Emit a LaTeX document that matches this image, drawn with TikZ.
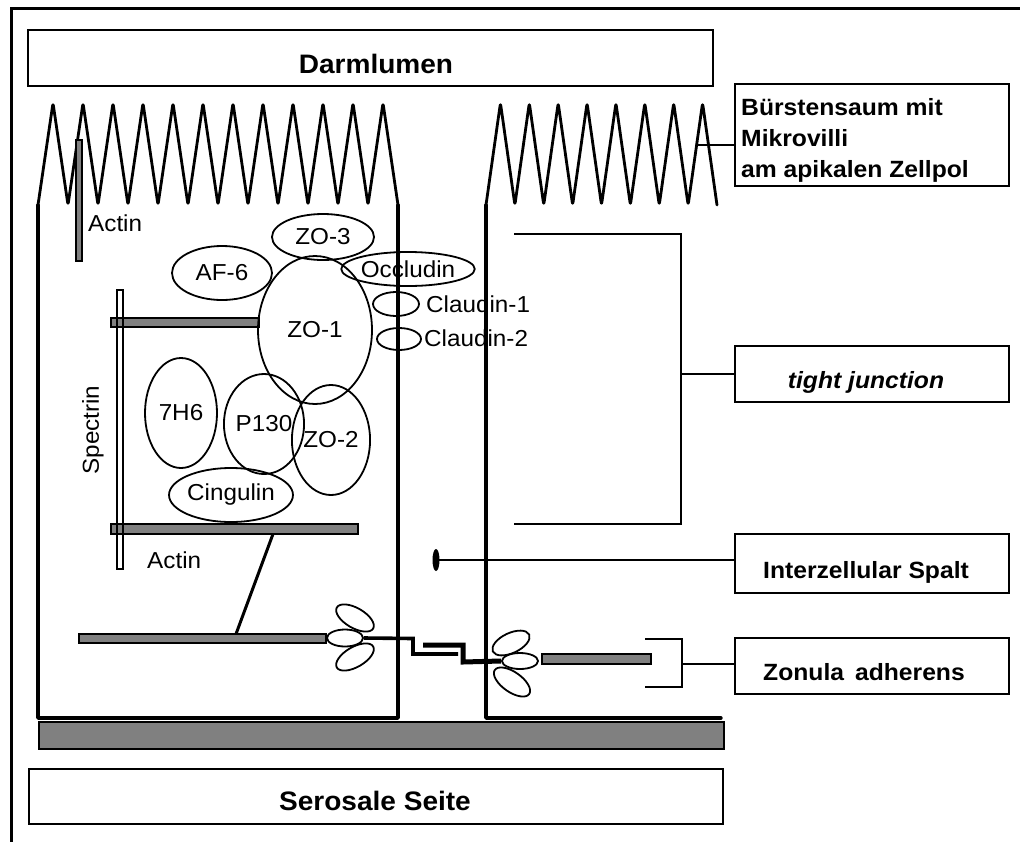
\documentclass[tikz,border=0pt]{standalone}
\usepackage{fontspec}
\setmainfont{Liberation Sans}
\usepackage{graphicx}
\usetikzlibrary{shapes.geometric}
\definecolor{barg}{HTML}{808080}
\newcommand{\stretchtxt}[1]{\scalebox{1.05}[1]{#1}}
\newcommand{\regf}{\fontsize{23.1}{27}\selectfont}
\newcommand{\boldf}{\fontsize{23.5}{28}\selectfont\bfseries}
\newcommand{\titlef}{\fontsize{26.7}{31}\selectfont\bfseries}
\tikzset{
  frameline/.style={line width=3.5pt, line join=miter},
  cellwall/.style={line width=3.4pt, line join=round, line cap=round},
  villi/.style={line width=2.8pt, line join=round, line cap=round, rounded corners=3pt},
  boxed/.style={draw, rectangle, line width=2pt, inner sep=0pt},
  prot/.style={draw, ellipse, line width=1.8pt, inner sep=0pt, font=\regf},
  blob/.style={draw, ellipse, line width=1.8pt, inner sep=0pt},
  barshape/.style={draw, rectangle, fill=barg, line width=1.4pt, inner sep=0pt},
  specbar/.style={draw, rectangle, line width=1.4pt, inner sep=0pt},
  lnk/.style={line width=2.2pt},
  lbl/.style={inner sep=0pt, font=\regf},
  blbl/.style={inner sep=0pt, font=\boldf},
}
\begin{document}
\begin{tikzpicture}[x=1pt,y=-1pt]
\useasboundingbox (0,0) rectangle (1020,841);
% outer frame
\draw[frameline] (11.7,845) -- (11.7,8.7) -- (1020,8.7);

% Darmlumen & Serosale boxes
\node[boxed, minimum width=685, minimum height=56] (lumen) at (370.5,58) {};
\node[inner sep=0pt, font=\titlef, anchor=base] (lumentxt) at (376,73) {\stretchtxt{Darmlumen}};
\node[boxed, minimum width=694, minimum height=55] (serosa) at (376,796.5) {};
\node[inner sep=0pt, font=\titlef, anchor=base] (serosatxt) at (375,810) {\stretchtxt{Serosale Seite}};

% basement membrane
\node[barshape, minimum width=685, minimum height=27] (basal) at (381.5,735.5) {};

% left cell
\draw[cellwall] (38,205) -- (38,718) -- (398,718) -- (398,205);
\draw[villi] (38,205) \foreach \i in {0,...,11}{ -- ({53+30*\i},103) -- ({68+30*\i},205) };
% right cell
\draw[cellwall] (486,205) -- (486,718) -- (721,718);
\draw[villi] (486,205) \foreach \i in {0,...,7}{ -- ({486+14.44+28.875*\i},103) -- ({486+28.875*(\i+1)},205) };

% cytoskeleton bars
\node[barshape, minimum width=6, minimum height=121] (actinv) at (79,200.5) {};
\node[lbl, anchor=west] (actintop) at (88,223) {\stretchtxt{Actin}};
\node[barshape, minimum width=148, minimum height=9] (actinup) at (185,322.5) {};
\node[barshape, minimum width=247, minimum height=10] (actinlow) at (234.5,529) {};
\node[specbar, minimum width=6, minimum height=279] (spectrin) at (120,429.5) {};
\node[lbl, rotate=90] (spectxt) at (93,430) {\stretchtxt{Spectrin}};
\node[lbl, anchor=west] (actinbot) at (147,560) {\stretchtxt{Actin}};
\node[barshape, minimum width=247, minimum height=9] (adhl) at (202.5,638.5) {};
\node[barshape, minimum width=109, minimum height=10] (adhr) at (596.5,659) {};
\coordinate (dg1) at (273,534);
\coordinate (dg2) at (236,634);
\draw[line width=3pt] (dg1) -- (dg2);

% tight junction proteins
\node[prot, minimum width=102, minimum height=46] (zo3) at (323,237) {\stretchtxt{ZO-3}};
\node[prot, minimum width=100, minimum height=54] (af6) at (222,273) {\stretchtxt{AF-6}};
\node[prot, minimum width=114, minimum height=148] (zo1) at (315,330) {\stretchtxt{ZO-1}};
\node[prot, minimum width=132, minimum height=34] (occl) at (408,269) {\stretchtxt{Occludin}};
\node[prot, minimum width=46, minimum height=24] (cl1) at (396,304) {};
\node[lbl, anchor=west] (cl1txt) at (426,304) {\stretchtxt{Claudin-1}};
\node[prot, minimum width=44, minimum height=22] (cl2) at (399,339) {};
\node[lbl, anchor=west] (cl2txt) at (424,338) {\stretchtxt{Claudin-2}};
\node[prot, minimum width=72, minimum height=110] (h76) at (181,413) {\stretchtxt{7H6}};
\node[prot, minimum width=56, minimum height=100] (p130) at (264,424) {\stretchtxt{P130}};
\node[prot, minimum width=72, minimum height=110] (zo2) at (331,440) {\stretchtxt{ZO-2}};
\node[prot, minimum width=102, minimum height=54] (cing) at (231,495) {\stretchtxt{Cingulin}};

% adherens junction: cadherins and catenins
\node[blob, minimum width=36, minimum height=17] (lcad) at (345,638) {};
\node[blob, minimum width=42, minimum height=20, rotate=-30] (lcat1) at (355,618) {};
\node[blob, minimum width=42, minimum height=20, rotate=30] (lcat2) at (355,657) {};
\node[blob, minimum width=36, minimum height=16] (rcad) at (520,661) {};
\node[blob, minimum width=40, minimum height=20, rotate=25] (rcat1) at (511,643) {};
\node[blob, minimum width=42, minimum height=20, rotate=-35] (rcat2) at (512,682) {};
\draw[line width=3.6pt] (lcad.east) -- (413,638.5) -- (413,654) -- (458,654);
\draw[line width=5pt] (423,645) -- (463,645) -- (463,662) -- (rcad.west);

% right-hand labels
\node[boxed, minimum width=274, minimum height=102] (bs) at (872,135) {};
\node[blbl, anchor=base west] (bs1) at (741,115) {\stretchtxt{Bürstensaum mit}};
\node[blbl, anchor=base west] (bs2) at (741,146) {\stretchtxt{Mikrovilli}};
\node[blbl, anchor=base west] (bs3) at (741,177) {\stretchtxt{am apikalen Zellpol}};
\coordinate (mv) at (698,145);
\draw[lnk] (mv) -- (mv -| bs.west);

\node[boxed, minimum width=274, minimum height=56] (tj) at (872,374) {};
\node[blbl, anchor=base] (tjtxt) at (866,388) {\stretchtxt{\itshape tight junction}};
\coordinate (tjt) at (514,234);
\coordinate (tjb) at (514,524);
\coordinate (tjs) at (681,374);
\draw[lnk] (tjt) -- (681,234) -- (681,524) -- (tjb);
\draw[lnk] (tjs) -- (tj.west);

\node[boxed, minimum width=274, minimum height=59] (iz) at (872,563.5) {};
\node[blbl, anchor=base] (iztxt) at (866,578) {\stretchtxt{Interzellular Spalt}};
\node[fill, ellipse, inner sep=0pt, minimum width=7, minimum height=22] (spot) at (436,560) {};
\draw[lnk] (spot.center) -- (spot -| iz.west);

\node[boxed, minimum width=274, minimum height=56] (za) at (872,666) {};
\node[blbl, anchor=base] (zatxt) at (864,680) {\stretchtxt{Zonula\, adherens}};
\coordinate (zat) at (645,639);
\coordinate (zab) at (645,687);
\coordinate (zas) at (682,664);
\draw[lnk] (zat) -- (682,639) -- (682,687) -- (zab);
\draw[lnk] (zas) -- (zas -| za.west);
\end{tikzpicture}
\end{document}
